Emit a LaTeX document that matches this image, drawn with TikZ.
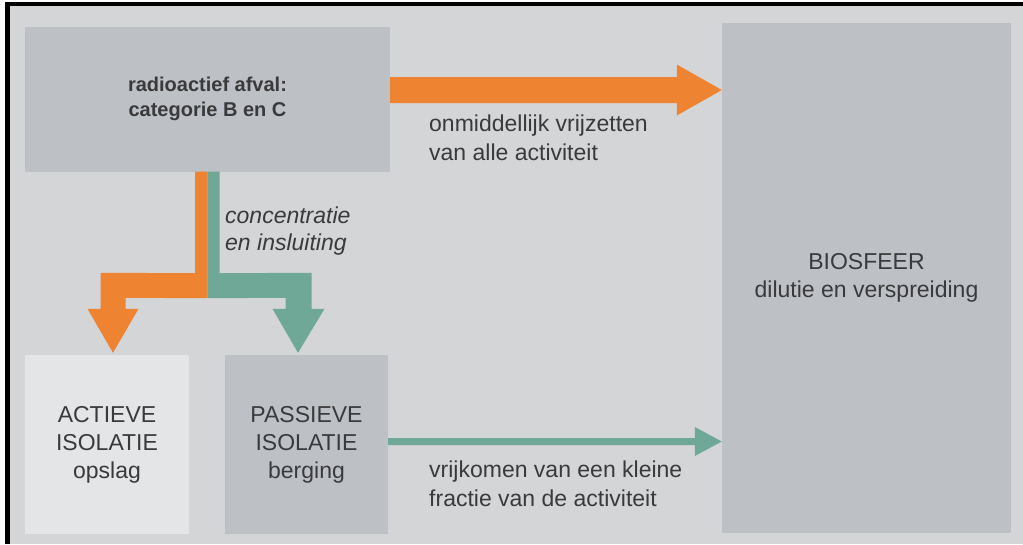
\documentclass[tikz,border=0pt]{standalone}
\usepackage{fontspec}
\setmainfont{Liberation Sans}
\usetikzlibrary{calc}
\definecolor{bgc}{HTML}{D4D5D7}
\definecolor{boxc}{HTML}{BDC0C4}
\definecolor{lightc}{HTML}{E4E5E7}
\definecolor{orng}{HTML}{EE8432}
\definecolor{tealc}{HTML}{6FA897}
\definecolor{txt}{HTML}{3A3A3C}
\begin{document}
\begin{tikzpicture}[x=1pt,y=-1pt,
  box/.style={fill=boxc, draw=none, inner sep=0pt, align=center, text=txt, font=\fontsize{23}{28}\selectfont},
  lbl/.style={anchor=north west, inner sep=0pt, align=left, text=txt, font=\fontsize{23}{28.5}\selectfont}]
\useasboundingbox (0,0) rectangle (1023,544);
\fill[white] (0,0) rectangle (1023,544);
\fill[bgc] (10,6) rectangle (1023,544);
\fill[black] (5,2) rectangle (10,544);
\fill[black] (5,2) rectangle (1023,6);

\node[box, minimum width=365pt, minimum height=145pt, font=\bfseries\fontsize{20}{25}\selectfont] (waste) at (207.5,99) {radioactief afval:\\categorie B en C};
\node[box, minimum width=289pt, minimum height=510pt] (bio) at (866.5,278) {BIOSFEER\\dilutie en verspreiding};
\node[box, fill=lightc, minimum width=164pt, minimum height=179pt] (act) at (107,444.5) {ACTIEVE\\ISOLATIE\\opslag};
\node[box, minimum width=163pt, minimum height=179pt] (pas) at (306.5,444.5) {PASSIEVE\\ISOLATIE\\berging};

% top orange arrow
\coordinate (os) at ($(waste.east)+(0,-9)$);
\coordinate (oe) at (os -| bio.west);
\fill[orng] ($(os)+(0,-13)$) -- ($(oe)+(-45,-13)$) -- ($(oe)+(-45,-25.5)$) -- (oe) -- ($(oe)+(-45,25.5)$) -- ($(oe)+(-45,13)$) -- ($(os)+(0,13)$) -- cycle;

% bottom teal arrow
\coordinate (ts) at ($(pas.east)+(0,-3)$);
\coordinate (te) at (ts -| bio.west);
\fill[tealc] ($(ts)+(0,-3.5)$) -- ($(te)+(-27,-3.5)$) -- ($(te)+(-27,-14.5)$) -- (te) -- ($(te)+(-27,14.5)$) -- ($(te)+(-27,3.5)$) -- ($(ts)+(0,3.5)$) -- cycle;

% split arrows
\coordinate (s) at (waste.south);
\coordinate (ot) at ($(act.north)+(6,-2)$);
\coordinate (tt) at ($(pas.north)+(-8.5,-2)$);
\fill[orng] ($(s)+(-12.5,0)$) -- (s) -- ($(s)+(0,126.5)$) -- ($(ot)+(12.5,-55)$) -- ($(ot)+(12.5,-44)$) -- ($(ot)+(25.5,-44)$) -- (ot) -- ($(ot)+(-25.5,-44)$) -- ($(ot)+(-12.5,-44)$) -- ($(ot)+(-12.5,-80)$) -- ($(s)+(-12.5,101.5)$) -- cycle;
\fill[tealc] (s) -- ($(s)+(12,0)$) -- ($(s)+(12,101.5)$) -- ($(tt)+(13.5,-80)$) -- ($(tt)+(13.5,-44)$) -- ($(tt)+(26.5,-44)$) -- (tt) -- ($(tt)+(-25.5,-44)$) -- ($(tt)+(-12.5,-44)$) -- ($(tt)+(-12.5,-55)$) -- ($(s)+(0,126.5)$) -- cycle;

% labels
\node[lbl] (l1) at (429,115) {onmiddellijk vrijzetten\\van alle activiteit};
\node[lbl] (l2) at (429,461) {vrijkomen van een kleine\\fractie van de activiteit};
\node[lbl, font=\itshape\fontsize{23}{27}\selectfont] (l3) at (225,207) {concentratie\\en insluiting};
\end{tikzpicture}
\end{document}
